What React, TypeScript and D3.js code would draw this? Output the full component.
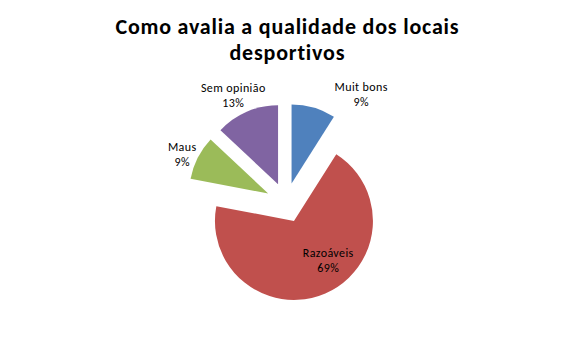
import React from "react";
import * as d3 from "d3";

const categories = ["Muit bons", "Razoáveis", "Maus", "Sem opinião"];
const values = [9, 69, 9, 13];
const colors = ["#4F81BD", "#C0504D", "#9BBB59", "#8064A2"];
const titleLines = ["Como avalia a qualidade dos locais", "desportivos"];

// label placement (polar, relative to pie centre): angle in degrees clockwise from 12 o'clock, distance in px
const labelAngles = [34.75, 144, 294.8, 333.7];
const labelDistances = [131.6, 71.5, 114.6, 119.5];

const W = 573;
const H = 337;
const cx = 286;
const cy = 202.6;
const radius = 79;
const explode = 20;

export default function App() {
  const total = d3.sum(values);
  const pie = d3
    .pie<number>()
    .sort(null)
    .value((d) => d)
    .startAngle(0)
    .endAngle(2 * Math.PI);
  const arcs = pie(values);
  const arcGen = d3.arc<d3.PieArcDatum<number>>().innerRadius(0).outerRadius(radius);
  const fmt = d3.format(".0%");

  return (
    <svg
      width={W}
      height={H}
      style={{ position: "absolute", left: 0, top: 0, background: "#fff" }}
      fontFamily="Carlito, 'Open Sans', 'Liberation Sans', sans-serif"
    >
      <rect width={W} height={H} fill="#fff" />
      {titleLines.map((t, i) => (
        <text
          key={t}
          x={287.4}
          y={34 + i * 26}
          textAnchor="middle"
          fontWeight="bold"
          fontSize={22}
          letterSpacing={0.8}
          fill="#000"
        >
          {t}
        </text>
      ))}
      <g transform={`translate(${cx},${cy})`}>
        {arcs.map((a, i) => {
          const mid = (a.startAngle + a.endAngle) / 2;
          const dx = explode * Math.sin(mid);
          const dy = -explode * Math.cos(mid);
          return (
            <path
              key={categories[i]}
              d={arcGen(a) || ""}
              transform={`translate(${dx},${dy})`}
              fill={colors[i]}
            />
          );
        })}
        {arcs.map((a, i) => {
          const ang = (labelAngles[i] * Math.PI) / 180;
          const x = labelDistances[i] * Math.sin(ang) + 0.2;
          const y = -labelDistances[i] * Math.cos(ang);
          return (
            <text
              key={"l" + categories[i]}
              x={x}
              y={y}
              textAnchor="middle"
              fontSize={12}
              letterSpacing={0.4}
              fill="#000"
            >
              <tspan x={x} dy={-3.5}>
                {categories[i]}
              </tspan>
              <tspan x={x} dy={15}>
                {fmt(values[i] / total)}
              </tspan>
            </text>
          );
        })}
      </g>
    </svg>
  );
}
